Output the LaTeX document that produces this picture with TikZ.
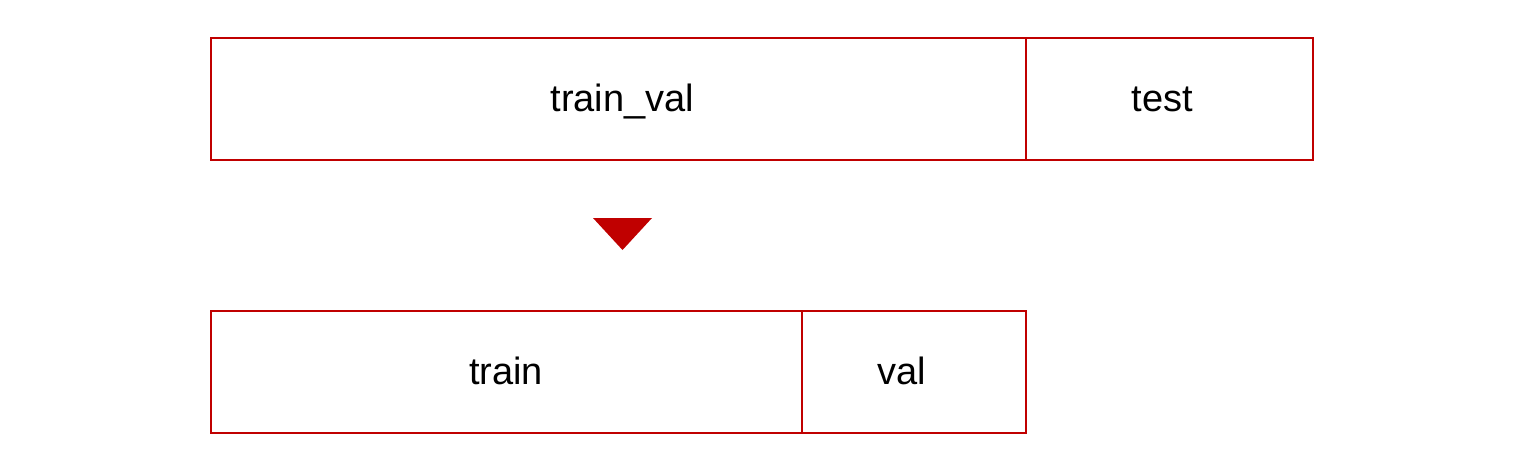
\documentclass[tikz,border=0pt]{standalone}
\usepackage{fontspec}
\setmainfont{Liberation Sans}
\definecolor{boxred}{HTML}{C00000}
\begin{document}
\begin{tikzpicture}[x=1pt,y=-1pt,
  cell/.style={draw=boxred,line width=2.6pt,minimum height=122pt,inner sep=0pt,outer sep=0pt,anchor=north west},
  lbl/.style={inner sep=0pt,anchor=base,font=\fontsize{38}{42}\selectfont},
]
\useasboundingbox (0,0) rectangle (1520,468);
\node[cell,minimum width=815pt] (trainval) at (211,38) {};
\node[cell,minimum width=287pt] (test) at (1026,38) {};
\node[cell,minimum width=591pt] (train) at (211,311) {};
\node[cell,minimum width=224pt] (val) at (802,311) {};
\node[lbl] (trainvalL) at (622.3,111.7) {train\_val};
\node[lbl] (testL) at (1162.5,111.7) {test};
\node[lbl] (trainL) at (506,384) {train};
\node[lbl] (valL) at (901.5,384) {val};
\fill[boxred] (593,218) -- (652,218) -- (622.5,250) -- cycle;
\end{tikzpicture}
\end{document}
